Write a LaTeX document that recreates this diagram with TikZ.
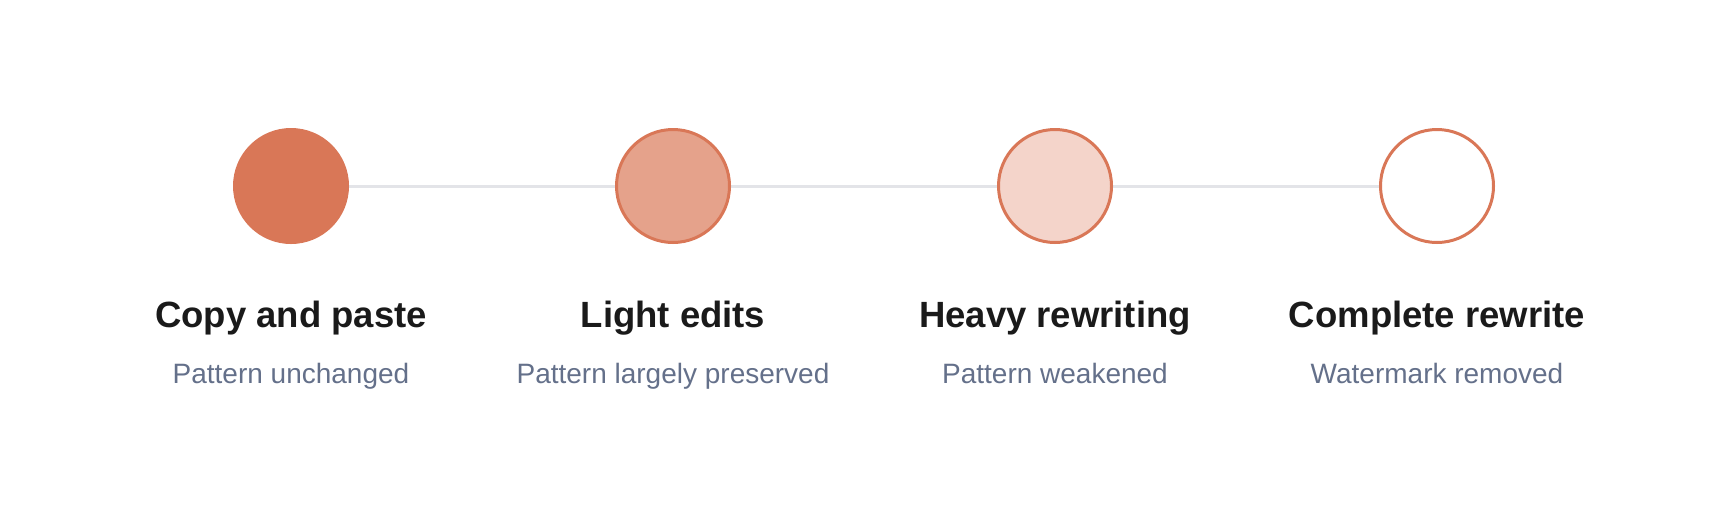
\documentclass[tikz,border=0pt]{standalone}
\usepackage{fontspec}
\setmainfont{Liberation Sans}
\definecolor{accent}{HTML}{D97757}
\definecolor{fillB}{HTML}{E5A28B}
\definecolor{fillC}{HTML}{F4D4CA}
\definecolor{linegray}{HTML}{E3E4E8}
\definecolor{titlec}{HTML}{1A1A1A}
\definecolor{subc}{HTML}{64708A}
\tikzset{
  x=1pt, y=1pt,
  stage/.style={circle, minimum size=113pt, inner sep=0pt, line width=3pt, draw=accent},
  ttl/.style={anchor=base, font=\fontsize{36.5}{40}\selectfont\bfseries, text=titlec, inner sep=0pt},
  subt/.style={anchor=base, font=\fontsize{28}{32}\selectfont, text=subc, inner sep=0pt},
  link/.style={draw=linegray, line width=3pt}
}
\begin{document}
\begin{tikzpicture}
\useasboundingbox (0,0) rectangle (1728,-520);
\coordinate (c1) at (291,-186);
\coordinate (c2) at (673,-186);
\coordinate (c3) at (1055,-186);
\coordinate (c4) at (1437,-186);
\draw[link] (c1) -- (c4);
\node[stage, fill=accent, draw=none, minimum size=116pt] (s1) at (c1) {};
\node[stage, fill=fillB] (s2) at (c2) {};
\node[stage, fill=fillC] (s3) at (c3) {};
\node[stage, fill=white] (s4) at (c4) {};
\node[ttl] (t1) at (291,-327) {Copy and paste};
\node[ttl] (t2) at (673,-327) {Light edits};
\node[ttl] (t3) at (1055,-327) {Heavy rewriting};
\node[ttl] (t4) at (1437,-327) {Complete rewrite};
\node[subt] (u1) at (291,-383) {Pattern unchanged};
\node[subt] (u2) at (673,-383) {Pattern largely preserved};
\node[subt] (u3) at (1055,-383) {Pattern weakened};
\node[subt] (u4) at (1437,-383) {Watermark removed};
\end{tikzpicture}
\end{document}
